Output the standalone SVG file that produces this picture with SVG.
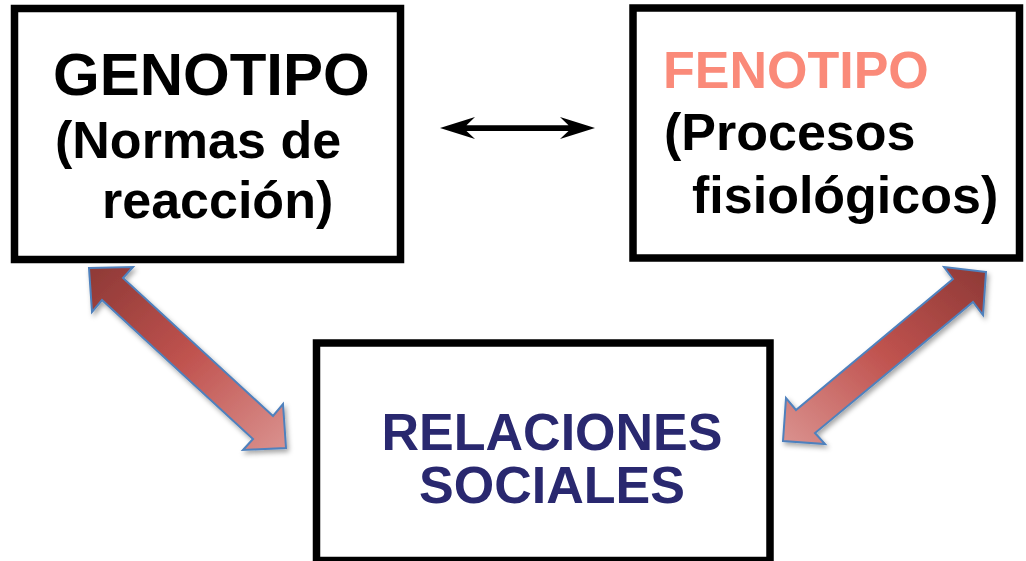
<svg xmlns="http://www.w3.org/2000/svg" width="1026" height="561" viewBox="0 0 1026 561">
  <style>
    .box { fill: #ffffff; stroke: #000000; stroke-width: 7.5; }
    .t { font-family: "Liberation Sans", Arial, sans-serif; font-weight: bold; }
    .big { font-size: 52px; }
    .fat { stroke: #4f81bd; stroke-width: 2; stroke-linejoin: miter; filter: url(#shadow); }
  </style>
  <defs>
    <linearGradient id="gradL" x1="0" y1="0" x2="1" y2="1">
      <stop offset="0" stop-color="#8e3936"/>
      <stop offset="0.5" stop-color="#c0534f"/>
      <stop offset="1" stop-color="#da928f"/>
    </linearGradient>
    <linearGradient id="gradR" x1="1" y1="0" x2="0" y2="1">
      <stop offset="0" stop-color="#8e3936"/>
      <stop offset="0.5" stop-color="#c0534f"/>
      <stop offset="1" stop-color="#da928f"/>
    </linearGradient>
    <filter id="shadow" x="-20%" y="-20%" width="140%" height="140%">
      <feDropShadow dx="2" dy="3" stdDeviation="2.5" flood-color="#000000" flood-opacity="0.35"/>
    </filter>
  </defs>

  <g id="genotipo">
    <rect class="box" x="14.5" y="8.5" width="386" height="251"/>
    <text class="t" x="53" y="95" font-size="60" fill="#000000">GENOTIPO</text>
    <text class="t big" x="55" y="158" fill="#000000">(Normas de</text>
    <text class="t big" x="102" y="218" fill="#000000">reacción)</text>
  </g>

  <g id="fenotipo">
    <rect class="box" x="633" y="8" width="386.5" height="250"/>
    <text class="t big" x="663" y="88" fill="#fa8a79">FENOTIPO</text>
    <text class="t big" x="664" y="150" fill="#000000">(Procesos</text>
    <text class="t big" x="692" y="213" fill="#000000">fisiológicos)</text>
  </g>

  <g id="relaciones">
    <rect class="box" x="316.5" y="343" width="453.5" height="217.5"/>
    <text class="t big" x="552" y="450" text-anchor="middle" fill="#29286f">RELACIONES</text>
    <text class="t big" x="552" y="503" text-anchor="middle" fill="#29286f">SOCIALES</text>
  </g>

  <g id="connectors">
    <path d="M440,128 L475,117 L466.5,125.3 L568.5,125.3 L560,117 L595,128 L560,139 L568.5,131 L466.5,131 L475,139 Z" fill="#000000"/>
    <path class="fat" fill="url(#gradL)" d="M89,268 L133,267 L123,278 L273,416 L283,404 L286,448 L243,450 L253,439 L102,300 L92,312 Z"/>
    <path class="fat" fill="url(#gradR)" d="M986,272 L944,267 L953,279 L796,410 L786,398 L783,441 L825,444 L815,433 L973,302 L983,315 Z"/>
  </g>
</svg>
